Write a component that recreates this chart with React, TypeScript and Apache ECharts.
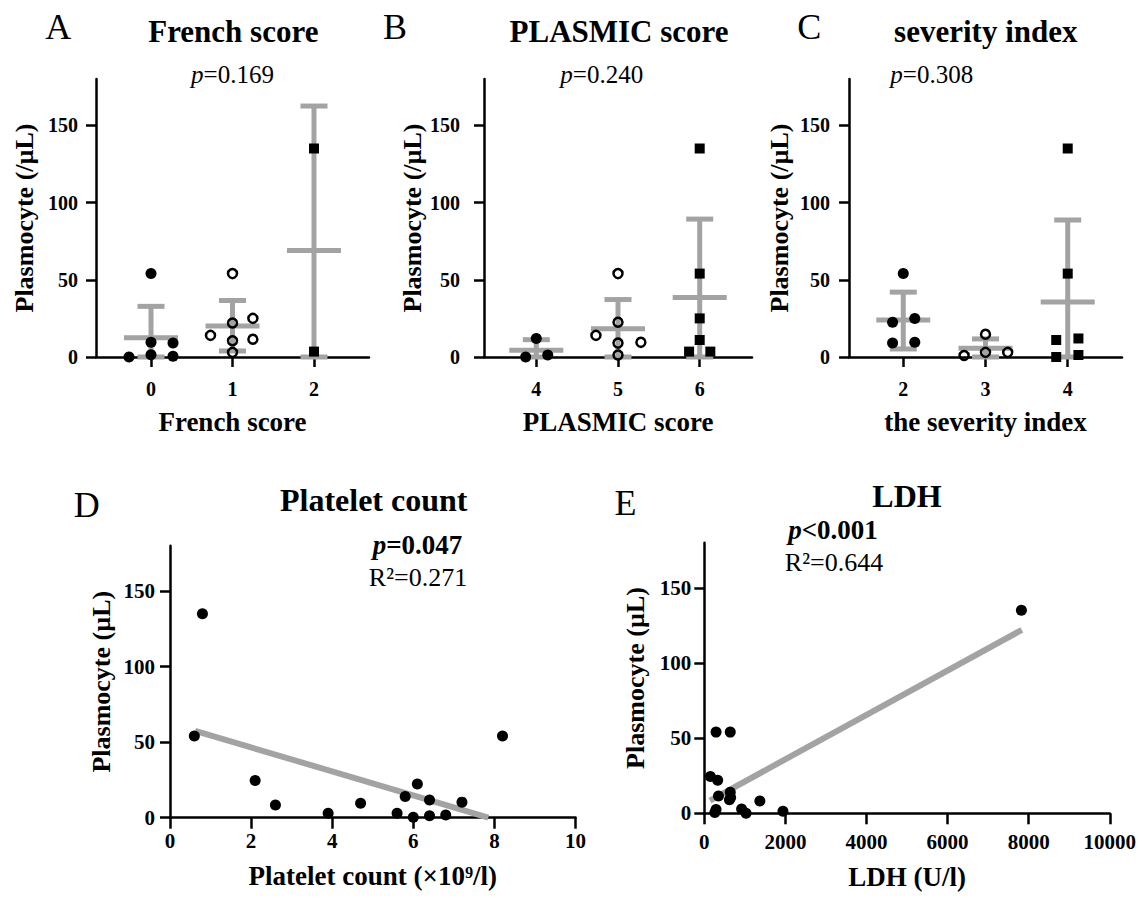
import React, { useEffect, useRef } from 'react';
import * as echarts from 'echarts';

const FONT = 'Liberation Serif, Times New Roman, Times, serif';
const GRAY = '#a3a3a3';
const BLACK = '#000000';

// ---------- Data ----------
const yTicks = [0, 50, 100, 150];

// A: French score
const frenchCats = [0, 1, 2];
const frenchVals = [[54, 9.5, 1.5, 0, 9, 0.5], [54, 25, 22, 14, 11.5, 10.5, 3], [135, 3.5]];
const frenchJitter = [[0, 0, 0, -0.27, 0.27, 0.27], [0, 0.25, 0, -0.27, 0.25, 0, 0], [0, 0]];
const frenchMean = [12.4, 20, 69];
const frenchUpper = [32.8, 36.6, 162.5];
const frenchLower = [0, 3.9, 0];

// B: PLASMIC score
const plasmicCats = [4, 5, 6];
const plasmicVals = [[12, 0, 1.3], [54, 22.5, 14, 9.5, 9, 1.3], [135, 54, 25, 11, 3.5, 3.5]];
const plasmicJitter = [[0, -0.13, 0.14], [0, 0, -0.27, 0.28, 0, 0], [0, 0, 0, 0, -0.13, 0.13]];
const plasmicMean = [4.3, 18.3, 38.6];
const plasmicUpper = [11.2, 37.2, 89.3];
const plasmicLower = [0, 0, 0];

// C: severity index
const severityCats = [2, 3, 4];
const severityVals = [[54, 25, 22.5, 9, 9.5], [14.7, 3, 3, 1], [135, 54, 12, 11, 1.3, 0]];
const severityJitter = [[0, 0.14, -0.13, -0.13, 0.14], [0, 0, 0.27, -0.26], [0, 0, 0.13, -0.14, 0.13, -0.14]];
const severityMean = [24, 5.7, 35.6];
const severityUpper = [42, 11.7, 88.7];
const severityLower = [5.2, 0, 0];

// D: Platelet count
const plateletX = [0.8, 0.6, 8.2, 2.1, 2.6, 3.9, 4.7, 5.6, 5.8, 6.0, 6.1, 6.4, 6.4, 6.8, 7.2];
const plateletY = [135, 54, 54, 24.6, 8.4, 3, 9.5, 3, 14, 0.3, 22.3, 11.7, 1.3, 1.8, 10.3];
const plateletFit = [[0.62, 57.5], [7.85, 0]];
const xTicksD = [0, 2, 4, 6, 8, 10];

// E: LDH
const ldhX = [7820, 290, 640, 150, 330, 350, 640, 620, 1370, 290, 260, 920, 1030, 1940, 650];
const ldhY = [135, 54, 54, 24.5, 22, 11.5, 14, 9, 8.2, 2.5, 0.5, 2.8, 0, 1.3, 10.5];
const ldhFit = [[140, 8.5], [7830, 122]];
const xTicksE = [0, 2000, 4000, 6000, 8000, 10000];

// ---------- Helpers ----------
const tickStyle = { fontFamily: FONT, fontWeight: 'bold', color: BLACK };
const plain = (v: number) => String(v);

function yAxis(gridIndex: number, name: string, nameGap: number, margin: number, fontSize: number) {
  return {
    type: 'value', gridIndex, min: 0, max: 180,
    axisLine: { show: true, onZero: false, lineStyle: { color: BLACK, width: 2.5 } },
    axisTick: { show: true, length: 10, customValues: yTicks, lineStyle: { color: BLACK, width: 2.5 } },
    axisLabel: { ...tickStyle, fontSize, margin, customValues: yTicks, formatter: plain },
    splitLine: { show: false },
    name, nameLocation: 'middle', nameGap, nameRotate: 90,
    nameTextStyle: { fontFamily: FONT, fontWeight: 'bold', fontSize: 26, color: BLACK },
  };
}

function xAxisCat(gridIndex: number, min: number, max: number, cats: number[], name: string) {
  return {
    type: 'value', gridIndex, min, max,
    axisLine: { show: true, onZero: false, lineStyle: { color: BLACK, width: 2.5 } },
    axisTick: { show: true, length: 10, customValues: cats, lineStyle: { color: BLACK, width: 2.5 } },
    axisLabel: { ...tickStyle, fontSize: 20, margin: 22, customValues: cats, formatter: plain },
    splitLine: { show: false },
    name, nameLocation: 'middle', nameGap: 51,
    nameTextStyle: { fontFamily: FONT, fontWeight: 'bold', fontSize: 27, color: BLACK },
  };
}

function xAxisNum(gridIndex: number, max: number, ticks: number[], margin: number, name: string, nameGap: number) {
  return {
    type: 'value', gridIndex, min: 0, max,
    axisLine: { show: true, onZero: false, lineStyle: { color: BLACK, width: 2.5 } },
    axisTick: { show: true, length: 11, customValues: ticks, lineStyle: { color: BLACK, width: 2.5 } },
    axisLabel: { ...tickStyle, fontSize: 21, margin, customValues: ticks, formatter: plain },
    splitLine: { show: false },
    name, nameLocation: 'middle', nameGap,
    nameTextStyle: { fontFamily: FONT, fontWeight: 'bold', fontSize: 27, color: BLACK },
  };
}

function errorSeries(axisIndex: number, cats: number[], mean: number[], lower: number[], upper: number[]) {
  return {
    type: 'custom', xAxisIndex: axisIndex, yAxisIndex: axisIndex, clip: false, z: 2,
    data: cats.map((c, i) => [c, mean[i], lower[i], upper[i]]),
    encode: { x: 0, y: 1 },
    renderItem: (params: any, api: any) => {
      const x = api.value(0);
      const pm = api.coord([x, api.value(1)]);
      const pl = api.coord([x, api.value(2)]);
      const ph = api.coord([x, api.value(3)]);
      const style = { stroke: GRAY, lineWidth: 5, fill: 'none' };
      const cx = pm[0];
      return {
        type: 'group',
        children: [
          { type: 'line', shape: { x1: cx, y1: pl[1], x2: cx, y2: ph[1] }, style },
          { type: 'line', shape: { x1: cx - 13.5, y1: ph[1], x2: cx + 13.5, y2: ph[1] }, style },
          { type: 'line', shape: { x1: cx - 13.5, y1: pl[1], x2: cx + 13.5, y2: pl[1] }, style },
          { type: 'line', shape: { x1: cx - 27, y1: pm[1], x2: cx + 27, y2: pm[1] }, style },
        ],
      };
    },
  };
}

function groupSeries(axisIndex: number, cats: number[], vals: number[][], jitter: number[][]) {
  const symbols = [
    { symbol: 'circle', symbolSize: 11, itemStyle: { color: BLACK, opacity: 1 } },
    { symbol: 'circle', symbolSize: 9, itemStyle: { color: 'rgba(0,0,0,0)', borderColor: BLACK, borderWidth: 2.5, opacity: 1 } },
    { symbol: 'rect', symbolSize: 10, itemStyle: { color: BLACK, opacity: 1 } },
  ];
  return vals.map((g, gi) => ({
    type: 'scatter', xAxisIndex: axisIndex, yAxisIndex: axisIndex, z: 3, clip: false,
    ...symbols[gi],
    data: g.map((v, i) => [cats[gi] + jitter[gi][i], v]),
  }));
}

function scatterSeries(axisIndex: number, xs: number[], ys: number[]) {
  return {
    type: 'scatter', xAxisIndex: axisIndex, yAxisIndex: axisIndex, z: 3, clip: false,
    symbol: 'circle', symbolSize: 11, itemStyle: { color: BLACK, opacity: 1 },
    data: xs.map((x, i) => [x, ys[i]]),
  };
}

function fitSeries(axisIndex: number, pts: number[][]) {
  return {
    type: 'line', xAxisIndex: axisIndex, yAxisIndex: axisIndex, z: 2,
    symbol: 'none', data: pts, lineStyle: { color: GRAY, width: 6, cap: 'butt' },
  };
}

function txt(x: number, y: number, text: string, fontSize: number, fontWeight: string, rich?: any) {
  return {
    type: 'text', x, y, z: 10,
    style: {
      text, fontFamily: FONT, fontSize, fontWeight, fill: BLACK,
      align: 'center', verticalAlign: 'middle', textAlign: 'center', textVerticalAlign: 'middle',
      rich,
    },
  };
}

function pRich(size: number, bold: boolean) {
  const w = bold ? 'bold' : 'normal';
  return {
    i: { fontFamily: FONT, fontSize: size, fontStyle: 'italic', fontWeight: w, fill: BLACK, color: BLACK },
    n: { fontFamily: FONT, fontSize: size, fontWeight: w, fill: BLACK, color: BLACK },
  };
}

export default function App() {
  const ref = useRef<HTMLDivElement>(null);
  useEffect(() => {
    const chart = echarts.init(ref.current!, null, { renderer: 'svg' });
    const option: any = {
      animation: false,
      backgroundColor: '#ffffff',
      textStyle: { fontFamily: FONT },
      grid: [
        { left: 96, top: 79, width: 273, height: 278 },
        { left: 484, top: 79, width: 268, height: 278 },
        { left: 849, top: 79, width: 273, height: 278 },
        { left: 170, top: 545.7, width: 405.5, height: 272 },
        { left: 704.3, top: 542.7, width: 405.5, height: 270.6 },
      ],
      xAxis: [
        xAxisCat(0, -0.675, 2.675, frenchCats, 'French score'),
        xAxisCat(1, 3.36, 6.64, plasmicCats, 'PLASMIC score'),
        xAxisCat(2, 1.34, 4.66, severityCats, 'the severity index'),
        xAxisNum(3, 10, xTicksD, 13, 'Platelet count (×10⁹/l)', 45),
        xAxisNum(4, 10000, xTicksE, 18, 'LDH (U/l)', 50),
      ],
      yAxis: [
        yAxis(0, 'Plasmocyte (/µL)', 59, 18, 20),
        yAxis(1, 'Plasmocyte (/µL)', 59, 24, 20),
        yAxis(2, 'Plasmocyte (/µL)', 57, 19, 20),
        yAxis(3, 'Plasmocyte (µL)', 56, 15, 21),
        yAxis(4, 'Plasmocyte (µL)', 56, 13, 21),
      ],
      series: [
        errorSeries(0, frenchCats, frenchMean, frenchLower, frenchUpper),
        ...groupSeries(0, frenchCats, frenchVals, frenchJitter),
        errorSeries(1, plasmicCats, plasmicMean, plasmicLower, plasmicUpper),
        ...groupSeries(1, plasmicCats, plasmicVals, plasmicJitter),
        errorSeries(2, severityCats, severityMean, severityLower, severityUpper),
        ...groupSeries(2, severityCats, severityVals, severityJitter),
        fitSeries(3, plateletFit),
        scatterSeries(3, plateletX, plateletY),
        fitSeries(4, ldhFit),
        scatterSeries(4, ldhX, ldhY),
      ],
      graphic: [
        txt(58.3, 26.7, 'A', 36, 'normal'),
        txt(233.3, 31.7, 'French score', 31, 'bold'),
        txt(232.5, 74.7, '{i|p}{n|=0.169}', 25, 'normal', pRich(25, false)),
        txt(395, 26.7, 'B', 36, 'normal'),
        txt(619, 31.7, 'PLASMIC score', 31, 'bold'),
        txt(601.7, 74.7, '{i|p}{n|=0.240}', 25, 'normal', pRich(25, false)),
        txt(809.2, 26.7, 'C', 36, 'normal'),
        txt(985.8, 31.7, 'severity index', 31, 'bold'),
        txt(931.7, 74.7, '{i|p}{n|=0.308}', 25, 'normal', pRich(25, false)),
        txt(86.7, 505, 'D', 36, 'normal'),
        txt(373.7, 499.5, 'Platelet count', 32, 'bold'),
        txt(417.5, 545.3, '{i|p}{n|=0.047}', 27, 'bold', pRich(27, true)),
        txt(418, 577.3, 'R²=0.271', 26, 'normal'),
        txt(625.5, 502.5, 'E', 36, 'normal'),
        txt(907, 496.2, 'LDH', 32, 'bold'),
        txt(833, 529.5, '{i|p}{n|<0.001}', 27, 'bold', pRich(27, true)),
        txt(834, 562.8, 'R²=0.644', 26, 'normal'),
      ],
    };
    chart.setOption(option);
    return () => chart.dispose();
  }, []);
  return (
    <div
      ref={ref}
      style={{ position: 'fixed', left: 0, top: 0, width: 1143, height: 898, background: '#fff' }}
    />
  );
}
